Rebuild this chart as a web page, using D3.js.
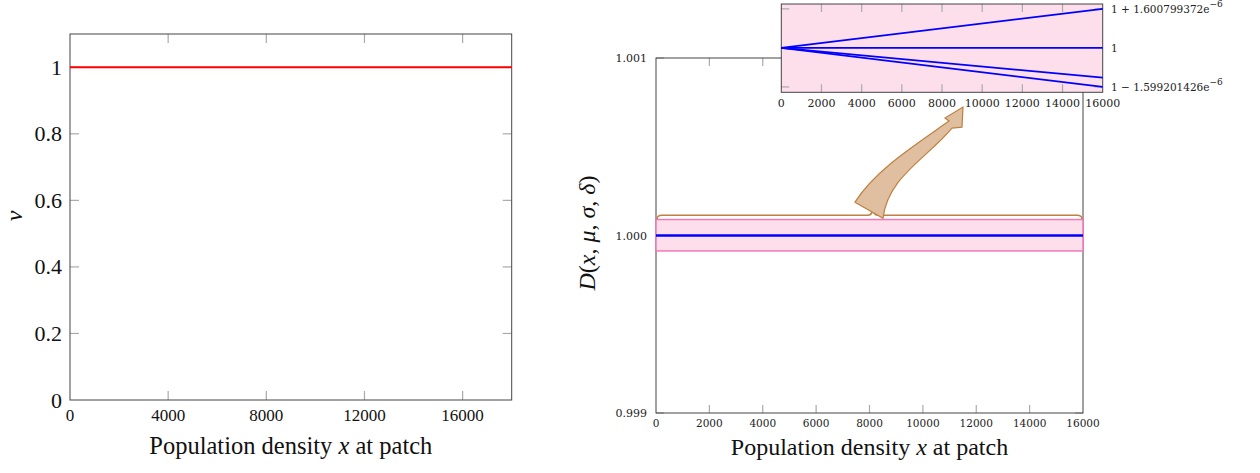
<!DOCTYPE html>
<html>
<head>
  <meta charset="utf-8">
  <title>nu and D(x, mu, sigma, delta)</title>
  <script src="https://d3js.org/d3.v7.min.js"></script>
  <style>
    body { margin: 0; background: #fff; }
    svg { display: block; }
    text { font-family: "Liberation Serif", "Times New Roman", serif; fill: #111; }
    .small { font-family: "DejaVu Serif", serif; fill: #222; }
  </style>
</head>
<body>
  <div id="chart"></div>

  <script>
    // left panel: nu vs population density
    var nuX = [0, 18000];
    var nuY = [1, 1];
    var nuXTicks = [0, 4000, 8000, 12000, 16000];
    var nuYTicks = [0, 0.2, 0.4, 0.6, 0.8, 1];

    // right panel: D(x, mu, sigma, delta)
    var dX = [0, 16000];
    var dY = [1, 1];
    var dXTicks = [0, 2000, 4000, 6000, 8000, 10000, 12000, 14000, 16000];
    var dYTicks = [0.999, 1.000, 1.001];
    var bandLow = 0.999913, bandHigh = 1.00009;
    var braceX = [0, 8130, 16000], braceY = 1.0001145;

    // inset: deviation from 1 (units of 1e-6)
    var insetX = [0, 16000];
    var insetSeries = [
      [0, 1.600799372],
      [0, 0],
      [0, -1.22],
      [0, -1.599201426]
    ];
    var insetXTicks = [0, 2000, 4000, 6000, 8000, 10000, 12000, 14000, 16000];
    var insetYTicks = [1.600799372, 0, -1.599201426];
    var insetYLabels = [["1 + 1.600799372e", "\u22126"], ["1", ""], ["1 \u2212 1.599201426e", "\u22126"]];

    // zoom arrow outline in data coordinates of the right panel
    var arrowPts = [
      [7457, 1.0001878], [8506, 1.0000976],
      [8700, 1.0003300], [10080, 1.0004247], [11091, 1.0006052],
      [11466, 1.0006108], [11503, 1.0007236], [10829, 1.0006616], [10979, 1.0006447],
      [9705, 1.0005093], [8206, 1.0003683], [7457, 1.0001878]
    ];

    var svg = d3.select("#chart").append("svg")
      .attr("width", 1260)
      .attr("height", 473);

    function box(g, x, y, w, h, xt, yt, tl) {
      var t = g.append("g").attr("stroke", "#aaa").attr("stroke-width", 1.2);
      xt.forEach(function(v) {
        t.append("line").attr("x1", v).attr("x2", v).attr("y1", y + h).attr("y2", y + h - tl);
        t.append("line").attr("x1", v).attr("x2", v).attr("y1", y).attr("y2", y + tl);
      });
      yt.forEach(function(v) {
        t.append("line").attr("y1", v).attr("y2", v).attr("x1", x).attr("x2", x + tl);
        t.append("line").attr("y1", v).attr("y2", v).attr("x1", x + w).attr("x2", x + w - tl);
      });
      g.append("rect").attr("x", x).attr("y", y).attr("width", w).attr("height", h)
        .attr("fill", "none").attr("stroke", "#444").attr("stroke-width", 1);
    }

    // ---------- left panel ----------
    var L = { left: 70, right: 511.7, top: 34, bottom: 400 };
    var xL = d3.scaleLinear().domain([0, 18000]).range([L.left, L.right]);
    var yL = d3.scaleLinear().domain([0, 1.1]).range([L.bottom, L.top]);
    var gL = svg.append("g");

    box(gL, L.left, L.top, L.right - L.left, L.bottom - L.top,
      nuXTicks.slice(1).map(xL), nuYTicks.slice(1).map(yL), 9);

    gL.append("path")
      .datum(nuX.map(function(d, i) { return [d, nuY[i]]; }))
      .attr("fill", "none").attr("stroke", "#f00").attr("stroke-width", 2)
      .attr("d", d3.line().x(function(d) { return xL(d[0]); }).y(function(d) { return yL(d[1]); }));

    gL.selectAll(".xt").data(nuXTicks).enter().append("text")
      .attr("x", function(d) { return xL(d); }).attr("y", 421)
      .attr("text-anchor", "middle").style("font-size", "17px")
      .text(function(d) { return d; });
    gL.selectAll(".yt").data(nuYTicks).enter().append("text")
      .attr("x", 62).attr("y", function(d) { return yL(d) + 7.5; })
      .attr("text-anchor", "end").style("font-size", "22px")
      .text(function(d) { return d; });

    var xlab = gL.append("text").attr("x", (L.left + L.right) / 2).attr("y", 454)
      .attr("text-anchor", "middle").style("font-size", "24.5px");
    xlab.append("tspan").text("Population density ");
    xlab.append("tspan").style("font-style", "italic").text("x");
    xlab.append("tspan").text(" at patch");

    gL.append("text").attr("transform", "translate(22,216) rotate(-90)")
      .attr("text-anchor", "middle").style("font-size", "24px").style("font-style", "italic")
      .text("\u03bd");

    // ---------- right panel ----------
    var R = { left: 656, right: 1083, top: 58, bottom: 413 };
    var xR = d3.scaleLinear().domain([0, 16000]).range([R.left, R.right]);
    var yR = d3.scaleLinear().domain([0.999, 1.001]).range([R.bottom, R.top]);
    var gR = svg.append("g");

    box(gR, R.left, R.top, R.right - R.left, R.bottom - R.top,
      dXTicks.slice(1, -1).map(xR), dYTicks.map(yR), 8);

    gR.append("rect")
      .attr("x", xR(0)).attr("y", yR(bandHigh))
      .attr("width", xR(16000) - xR(0)).attr("height", yR(bandLow) - yR(bandHigh))
      .attr("fill", "#fcdfeb").attr("stroke", "#f07ab8").attr("stroke-width", 1.5);

    gR.append("path")
      .datum(dX.map(function(d, i) { return [d, dY[i]]; }))
      .attr("fill", "none").attr("stroke", "#0000ff").attr("stroke-width", 2.6)
      .attr("d", d3.line().x(function(d) { return xR(d[0]); }).y(function(d) { return yR(d[1]); }));

    gR.selectAll(".xt").data(dXTicks).enter().append("text")
      .attr("class", "small")
      .attr("x", function(d) { return xR(d); }).attr("y", 427)
      .attr("text-anchor", "middle").style("font-size", "10.5px")
      .text(function(d) { return d; });
    gR.selectAll(".yt").data(dYTicks).enter().append("text")
      .attr("class", "small")
      .attr("x", 647).attr("y", function(d) { return yR(d) + 4; })
      .attr("text-anchor", "end").style("font-size", "11px")
      .text(function(d) { return d.toFixed(3); });

    var xlab2 = gR.append("text").attr("x", (R.left + R.right) / 2).attr("y", 455)
      .attr("text-anchor", "middle").style("font-size", "24px");
    xlab2.append("tspan").text("Population density ");
    xlab2.append("tspan").style("font-style", "italic").text("x");
    xlab2.append("tspan").text(" at patch");

    var ylab2 = gR.append("text").attr("transform", "translate(595,233) rotate(-90)")
      .attr("text-anchor", "middle").style("font-size", "24px");
    ylab2.append("tspan").style("font-style", "italic").text("D");
    ylab2.append("tspan").text("(");
    ylab2.append("tspan").style("font-style", "italic").text("x");
    ylab2.append("tspan").text(", ");
    ylab2.append("tspan").style("font-style", "italic").text("\u03bc");
    ylab2.append("tspan").text(", ");
    ylab2.append("tspan").style("font-style", "italic").text("\u03c3");
    ylab2.append("tspan").text(", ");
    ylab2.append("tspan").style("font-style", "italic").text("\u03b4");
    ylab2.append("tspan").text(")");

    // brace over the band
    var bx0 = xR(braceX[0]) + 1, bxm = xR(braceX[1]), bx1 = xR(braceX[2]) - 1;
    var by = yR(braceY), r = 5;
    var brace = "M" + bx0 + "," + (by + 4) +
      " Q" + bx0 + "," + by + " " + (bx0 + r) + "," + by +
      " L" + (bxm - r) + "," + by +
      " Q" + bxm + "," + by + " " + bxm + "," + (by - 9) +
      " Q" + bxm + "," + by + " " + (bxm + r) + "," + by +
      " L" + (bx1 - r) + "," + by +
      " Q" + bx1 + "," + by + " " + bx1 + "," + (by + 4);
    gR.append("path").attr("d", brace).attr("fill", "none")
      .attr("stroke", "#bf8040").attr("stroke-width", 1.5);

    // curved arrow
    var ap = arrowPts.map(function(p) { return [xR(p[0]), yR(p[1])]; });
    var arrow = "M" + ap[0] + " L" + ap[1] +
      " C" + ap[2] + " " + ap[3] + " " + ap[4] +
      " L" + ap[5] + " L" + ap[6] + " L" + ap[7] + " L" + ap[8] +
      " C" + ap[9] + " " + ap[10] + " " + ap[11] + " Z";
    gR.append("path").attr("d", arrow)
      .attr("fill", "#dfbf9f").attr("stroke", "#bf8040").attr("stroke-width", 1.2)
      .attr("stroke-linejoin", "miter");

    // ---------- inset ----------
    var I = { left: 781.3, right: 1102.7, top: 4, bottom: 92.3 };
    var xI = d3.scaleLinear().domain([0, 16000]).range([I.left, I.right]);
    var yI = d3.scaleLinear().domain([-1.82, 1.8]).range([I.bottom, I.top]);
    var gI = svg.append("g");

    gI.append("rect").attr("x", I.left).attr("y", I.top)
      .attr("width", I.right - I.left).attr("height", I.bottom - I.top)
      .attr("fill", "#fcdfeb");

    box(gI, I.left, I.top, I.right - I.left, I.bottom - I.top,
      insetXTicks.slice(1, -1).map(xI), [insetYTicks[0], insetYTicks[2]].map(yI), 8);

    var lineI = d3.line().x(function(d) { return xI(d[0]); }).y(function(d) { return yI(d[1]); });
    insetSeries.forEach(function(s) {
      gI.append("path")
        .datum(insetX.map(function(d, i) { return [d, s[i]]; }))
        .attr("fill", "none").attr("stroke", "#0000ff").attr("stroke-width", 1.8)
        .attr("d", lineI);
    });

    gI.selectAll(".xt").data(insetXTicks).enter().append("text")
      .attr("class", "small")
      .attr("x", function(d) { return xI(d); }).attr("y", 107)
      .attr("text-anchor", "middle").style("font-size", "11px")
      .text(function(d) { return d; });

    insetYTicks.forEach(function(v, i) {
      var t = gI.append("text").attr("class", "small")
        .attr("x", 1111).attr("y", yI(v) + 4).style("font-size", "10.5px");
      t.append("tspan").text(insetYLabels[i][0]);
      if (insetYLabels[i][1]) {
        t.append("tspan").attr("dy", -6).style("font-size", "9px").text(insetYLabels[i][1]);
      }
    });
  </script>
</body>
</html>
